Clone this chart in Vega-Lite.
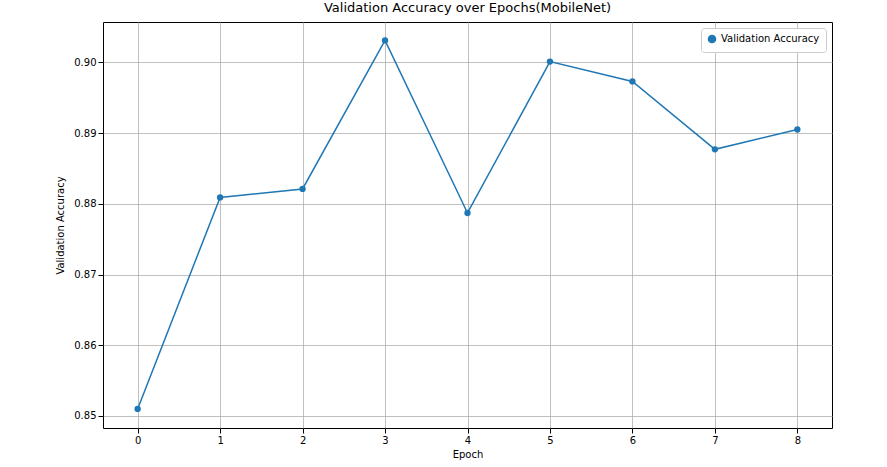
{
  "$schema": "https://vega.github.io/schema/vega-lite/v6.json",
  "width": 729,
  "height": 406,
  "autosize": "none",
  "padding": {"left": 103, "top": 22, "right": 55, "bottom": 39},
  "background": "white",
  "title": {"text": "Validation Accuracy over Epochs(MobileNet)", "font": "DejaVu Sans", "fontSize": 13, "fontWeight": "normal", "color": "black", "offset": 7},
  "config": {
    "view": {"stroke": "black", "strokeWidth": 1},
    "axis": {"labelFont": "DejaVu Sans", "titleFont": "DejaVu Sans", "labelFontSize": 10, "titleFontSize": 10, "titleFontWeight": "normal", "labelColor": "black", "titleColor": "black", "gridColor": "#b0b0b0", "gridWidth": 0.8, "tickColor": "black", "domain": false}
  },
  "data": {"values": [
    {"epoch": 0, "acc": 0.8510},
    {"epoch": 1, "acc": 0.8809},
    {"epoch": 2, "acc": 0.8821},
    {"epoch": 3, "acc": 0.9031},
    {"epoch": 4, "acc": 0.8787},
    {"epoch": 5, "acc": 0.9001},
    {"epoch": 6, "acc": 0.8973},
    {"epoch": 7, "acc": 0.8877},
    {"epoch": 8, "acc": 0.8905}
  ]},
  "encoding": {
    "x": {"field": "epoch", "type": "quantitative", "title": "Epoch", "scale": {"domain": [-0.42, 8.42], "nice": false, "zero": false}, "axis": {"values": [0,1,2,3,4,5,6,7,8], "format": "d", "titlePadding": 4}},
    "y": {"field": "acc", "type": "quantitative", "title": "Validation Accuracy", "scale": {"domain": [0.8483, 0.9057], "nice": false, "zero": false}, "axis": {"values": [0.85,0.86,0.87,0.88,0.89,0.90], "format": ".2f", "titlePadding": 8}},
    "color": {"datum": "Validation Accuracy", "type": "nominal", "scale": {"range": ["#1f77b4"]}, "legend": {"title": null, "orient": "top-right", "symbolType": "circle", "symbolSize": 50, "labelFont": "DejaVu Sans", "labelFontSize": 10, "labelColor": "black", "strokeColor": "#cccccc", "fillColor": "white", "padding": 6, "cornerRadius": 3, "offset": 6}}
  },
  "layer": [
    {"mark": {"type": "line", "strokeWidth": 1.5}},
    {"mark": {"type": "point", "filled": true, "size": 40, "opacity": 1}}
  ]
}
